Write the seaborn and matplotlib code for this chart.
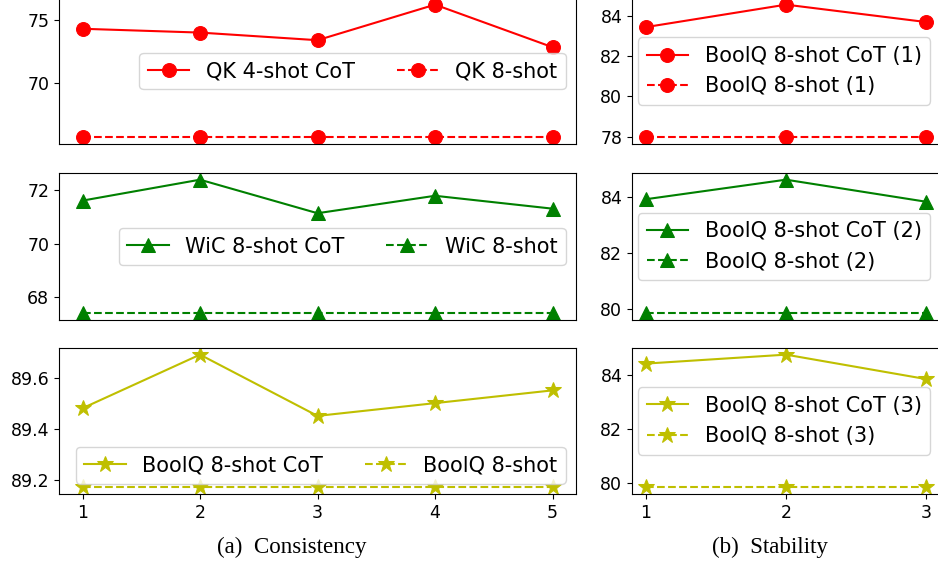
import matplotlib
matplotlib.use("Agg")
import matplotlib.pyplot as plt
import seaborn as sns

# values
steps_a = [1, 2, 3, 4, 5]
steps_b = [1, 2, 3]

qk_cot = [74.3, 74.0, 73.4, 76.2, 72.85]
qk_base = [65.75, 65.75, 65.75, 65.75, 65.75]
wic_cot = [71.6, 72.38, 71.13, 71.78, 71.3]
wic_base = [67.4, 67.4, 67.4, 67.4, 67.4]
boolq_cot = [89.48, 89.69, 89.45, 89.50, 89.55]
boolq_base = [89.17, 89.17, 89.17, 89.17, 89.17]

stab_cot_1 = [83.43, 84.54, 83.68]
stab_base_1 = [77.98, 77.98, 77.98]
stab_cot_2 = [83.92, 84.62, 83.83]
stab_base_2 = [79.83, 79.83, 79.83]
stab_cot_3 = [84.41, 84.74, 83.84]
stab_base_3 = [79.85, 79.85, 79.85]

yticks_a = [[70, 75], [68, 70, 72], [89.2, 89.4, 89.6]]
yticks_b = [[78, 80, 82, 84], [80, 82, 84], [80, 82, 84]]

plt.rcParams["font.family"] = ["DejaVu Sans"]
plt.rcParams["xtick.labelsize"] = 12.5
plt.rcParams["ytick.labelsize"] = 12.5

W, H = 938, 565
fig = plt.figure(figsize=(W / 100, H / 100), dpi=100)


def px_axes(left, top, width, height):
    return fig.add_axes([left / W, 1 - (top + height) / H, width / W, height / H])


rows = [(-2, 146), (173, 147), (348, 146)]
left_axes = [px_axes(59, t, 517, h) for t, h in rows]
right_axes = [px_axes(632, t, 308, h) for t, h in rows]

styles = [("r", "o"), ("g", "^"), ("y", "*")]

left_series = [
    (qk_cot, qk_base, "QK 4-shot CoT", "QK 8-shot"),
    (wic_cot, wic_base, "WiC 8-shot CoT", "WiC 8-shot"),
    (boolq_cot, boolq_base, "BoolQ 8-shot CoT", "BoolQ 8-shot"),
]
right_series = [
    (stab_cot_1, stab_base_1, "(1)"),
    (stab_cot_2, stab_base_2, "(2)"),
    (stab_cot_3, stab_base_3, "(3)"),
]

for i, ax in enumerate(left_axes):
    c, m = styles[i]
    cot, base, lab1, lab2 = left_series[i]
    ms = 12 if m == "*" else 10
    sns.lineplot(x=steps_a, y=cot, ax=ax, color=c, marker=m, markersize=ms,
                 markeredgecolor=c, linewidth=1.5, label=lab1)
    sns.lineplot(x=steps_a, y=base, ax=ax, color=c, marker=m, markersize=ms,
                 markeredgecolor=c, linewidth=1.5, linestyle="--", label=lab2)
    ax.set_xticks(steps_a)
    ax.set_yticks(yticks_a[i])
    ax.set_yticklabels([str(t) for t in yticks_a[i]])
    if i < 2:
        ax.set_xticklabels([])
        ax.tick_params(axis="x", length=0)
    loc = "lower right" if i == 2 else "center right"
    ax.legend(loc=loc, ncol=2, fontsize=15)

for i, ax in enumerate(right_axes):
    c, m = styles[i]
    cot, base, tag = right_series[i]
    ms = 12 if m == "*" else 10
    sns.lineplot(x=steps_b, y=cot, ax=ax, color=c, marker=m, markersize=ms,
                 markeredgecolor=c, linewidth=1.5, label="BoolQ 8-shot CoT " + tag)
    sns.lineplot(x=steps_b, y=base, ax=ax, color=c, marker=m, markersize=ms,
                 markeredgecolor=c, linewidth=1.5, linestyle="--",
                 label="BoolQ 8-shot " + tag)
    ax.set_xticks(steps_b)
    ax.set_yticks(yticks_b[i])
    if i < 2:
        ax.set_xticklabels([])
        ax.tick_params(axis="x", length=0)
    ax.legend(loc="center left", fontsize=15, borderaxespad=0.3)

fig.text(292 / W, 1 - 547 / H, "(a)  Consistency", ha="center", va="center",
         fontsize=16.6, family="Liberation Serif")
fig.text(770 / W, 1 - 547 / H, "(b)  Stability", ha="center", va="center",
         fontsize=16.6, family="Liberation Serif")

fig.savefig("out.png", dpi=100)
